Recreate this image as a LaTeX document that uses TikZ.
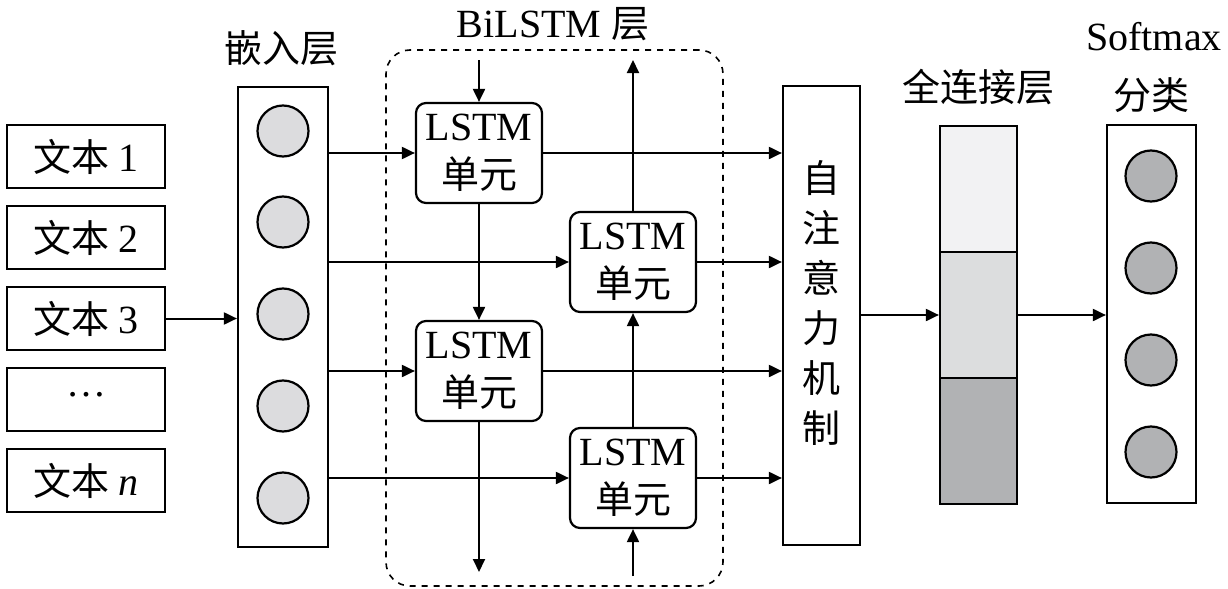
\documentclass[tikz,border=0pt]{standalone}
\usepackage{fontspec}
\setmainfont{Liberation Serif}
\newfontfamily\cjk{Noto Sans CJK SC}[Scale=0.95]
\usepackage{tikz}
\usetikzlibrary{arrows.meta}

\definecolor{embgray}{HTML}{DCDCDE}
\definecolor{softgray}{HTML}{B1B2B4}
\definecolor{fcone}{HTML}{F2F2F3}
\definecolor{fctwo}{HTML}{DCDDDE}
\definecolor{fcthree}{HTML}{B1B2B4}

\begin{document}
\begin{tikzpicture}[x=0.5pt,y=-0.5pt,
    every node/.style={font=\fontsize{20}{24}\selectfont, inner sep=0pt},
    box/.style={draw, line width=1.1pt},
    textbox/.style={box, minimum width=79pt, minimum height=31.5pt},
    unit/.style={box, fill=white, rounded corners=5pt, minimum width=63pt, minimum height=50pt, align=center},
    ball/.style={circle, draw, line width=1.1pt, minimum size=25.5pt},
    fcbox/.style={box, minimum width=38.5pt, minimum height=63pt},
    arr/.style={-{Triangle[length=6.5pt,width=6pt]}, line width=1pt}]

    \useasboundingbox (0,0) rectangle (1228,589);

    % input texts
    \node[textbox]   (t1) at (86,156.5)   {{\cjk 文本} 1};
    \node[textbox]   (t2) at (86,237.5)   {{\cjk 文本} 2};
    \node[textbox]   (t3) at (86,318.5)   {{\cjk 文本} 3};
    \node[textbox]   (t4) at (86,399.5)   {\raisebox{0.25em}{…}};
    \node[textbox]   (t5) at (86,480.5)   {{\cjk 文本} \textit{n}};

    % embedding layer
    \node            (embl) at (281,48)   {\cjk 嵌入层};
    \node[box, minimum width=45pt, minimum height=230pt] (emb) at (283,317) {};
    \node[ball, fill=embgray] (e1) at (283,131) {};
    \node[ball, fill=embgray] (e2) at (283,222) {};
    \node[ball, fill=embgray] (e3) at (283,314) {};
    \node[ball, fill=embgray] (e4) at (283,406) {};
    \node[ball, fill=embgray] (e5) at (283,498) {};

    % BiLSTM layer
    \node            (bill) at (553,24)   {BiLSTM {\cjk 层}};
    \node[draw, dashed, line width=0.8pt, rounded corners=12pt, minimum width=168.5pt, minimum height=268pt] (bil) at (554.5,318) {};
    \node[unit]      (l1) at (479,153)    {LSTM\\{\cjk 单元}};
    \node[unit]      (l2) at (633,262)    {LSTM\\{\cjk 单元}};
    \node[unit]      (l3) at (479,371)    {LSTM\\{\cjk 单元}};
    \node[unit]      (l4) at (633,478)    {LSTM\\{\cjk 单元}};
    \coordinate      (in1)  at (479,60);
    \coordinate      (out1) at (633,60);
    \coordinate      (out3) at (479,572);
    \coordinate      (in4)  at (633,576);

    % self attention
    \node[box, minimum width=38.5pt, minimum height=229.5pt] (att) at (821.5,315.5) {};
    \node[align=center, font=\fontsize{20}{25}\selectfont\cjk] (attl) at (821.5,303) {自\\注\\意\\力\\机\\制};

    % fully connected layer
    \node            (fcl) at (978,87)    {\cjk 全连接层};
    \node[fcbox, fill=fcone]   (fc1) at (978.5,189) {};
    \node[fcbox, fill=fctwo]   (fc2) at (978.5,315) {};
    \node[fcbox, fill=fcthree] (fc3) at (978.5,441) {};

    % softmax
    \node            (sml) at (1154,37)   {Softmax};
    \node            (smc) at (1151,95)   {\cjk 分类};
    \node[box, minimum width=44.5pt, minimum height=189pt] (soft) at (1151.5,314) {};
    \node[ball, fill=softgray] (s1) at (1151,176) {};
    \node[ball, fill=softgray] (s2) at (1151,268) {};
    \node[ball, fill=softgray] (s3) at (1151,360) {};
    \node[ball, fill=softgray] (s4) at (1151,452) {};

    \draw[arr] (t3.east) -- (t3.east -| emb.west);

    \draw[arr] (emb.east |- l1.west) -- (l1.west);
    \draw[arr] (emb.east |- l2.west) -- (l2.west);
    \draw[arr] (emb.east |- l3.west) -- (l3.west);
    \draw[arr] (emb.east |- l4.west) -- (l4.west);

    \draw[arr] (in1) -- (l1.north);
    \draw[arr] (l1.south) -- (l3.north);
    \draw[arr] (l3.south) -- (out3);
    \draw[arr] (in4) -- (l4.south);
    \draw[arr] (l4.north) -- (l2.south);
    \draw[arr] (l2.north) -- (out1);

    \draw[arr] (l1.east) -- (l1.east -| att.west);
    \draw[arr] (l2.east) -- (l2.east -| att.west);
    \draw[arr] (l3.east) -- (l3.east -| att.west);
    \draw[arr] (l4.east) -- (l4.east -| att.west);

    \draw[arr] (att.east |- fc2.west) -- (fc2.west);
    \draw[arr] (fc2.east) -- (fc2.east -| soft.west);
\end{tikzpicture}
\end{document}
